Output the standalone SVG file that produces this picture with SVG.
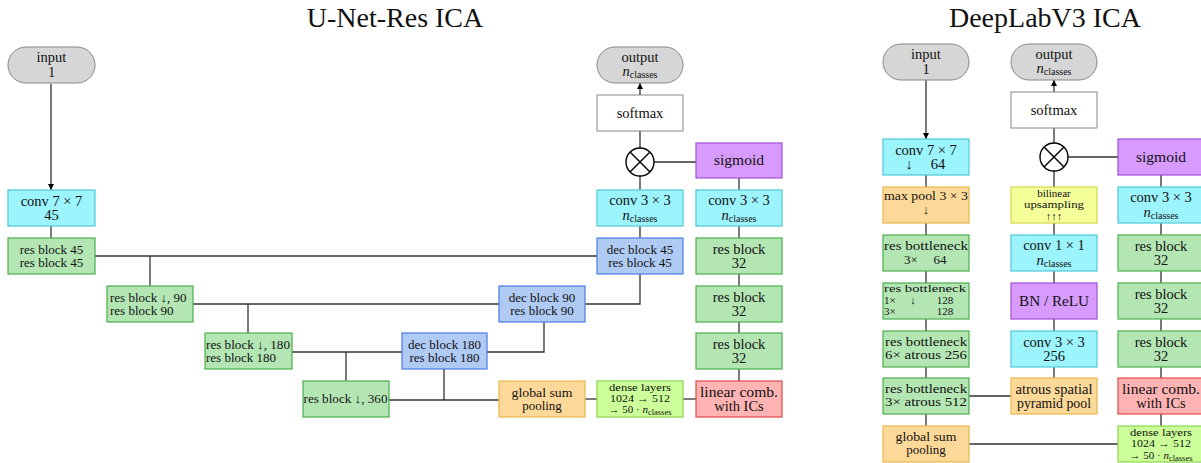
<svg xmlns="http://www.w3.org/2000/svg" width="1201" height="463" viewBox="0 0 1201 463">
<style>
text{font-family:"Liberation Serif","DejaVu Serif",serif;fill:#111;text-anchor:middle}
.t{font-size:14.5px}
.s{font-size:13px}
.xs{font-size:11px}
.l{text-anchor:start}
.ti{font-size:28px}
.sub{font-size:10px}
.pill{fill:#d6d6d6;stroke:#888;stroke-width:1}
.cy{fill:#9cf4fc;stroke:#52c6d6;stroke-width:1.2}
.gr{fill:#b4e6b4;stroke:#4cae4c;stroke-width:1.2}
.bl{fill:#afcbf4;stroke:#4a7ae6;stroke-width:1.2}
.or{fill:#fdd999;stroke:#e8b84c;stroke-width:1.2}
.pu{fill:#d69bfc;stroke:#a14fd6;stroke-width:1.2}
.re{fill:#ffb3b3;stroke:#e04848;stroke-width:1.2}
.lg{fill:#ccff99;stroke:#8cd64c;stroke-width:1.2}
.ye{fill:#f4ff99;stroke:#d6d64c;stroke-width:1.2}
.wh{fill:#fff;stroke:#888;stroke-width:1}
.c line,.c polyline{stroke:#333;stroke-width:1.3;fill:none}
.mul{fill:#fff;stroke:#000;stroke-width:1.4}
.x{stroke:#000;stroke-width:1.4}
</style>
<defs>
<marker id="ah" viewBox="0 0 10 10" refX="10" refY="5" markerWidth="6" markerHeight="6" orient="auto" markerUnits="userSpaceOnUse"><path d="M0,0 L10,5 L0,10 z" fill="#000"/></marker>
</defs>

<text class="ti" x="395" y="27">U-Net-Res ICA</text>
<text class="ti" x="1045" y="27">DeepLabV3 ICA</text>

<g class="c" id="connectors">
<line x1="51" y1="84" x2="51" y2="190" marker-end="url(#ah)"/>
<line x1="51" y1="226" x2="51" y2="238"/>
<line x1="95" y1="256" x2="597" y2="256"/>
<line x1="150" y1="256" x2="150" y2="286"/>
<line x1="193" y1="304" x2="499" y2="304"/>
<line x1="248" y1="304" x2="248" y2="333"/>
<line x1="291" y1="352" x2="402" y2="352"/>
<line x1="346" y1="352" x2="346" y2="381"/>
<line x1="389" y1="400" x2="499" y2="400"/>
<line x1="444" y1="369" x2="444" y2="400"/>
<polyline points="487,352 544,352 544,322"/>
<polyline points="585,304 640,304 640,274"/>
<line x1="640" y1="238" x2="640" y2="226"/>
<line x1="640" y1="190" x2="640" y2="176"/>
<line x1="640" y1="148" x2="640" y2="131"/>
<line x1="640" y1="95" x2="640" y2="83" marker-end="url(#ah)"/>
<line x1="654" y1="162" x2="696" y2="162"/>
<line x1="739" y1="178" x2="739" y2="381"/>
<line x1="585" y1="399" x2="597" y2="399"/>
<line x1="683" y1="399" x2="696" y2="399"/>

<line x1="926" y1="80" x2="926" y2="139" marker-end="url(#ah)"/>
<line x1="926" y1="175" x2="926" y2="426"/>
<line x1="969" y1="396" x2="1011" y2="396"/>
<line x1="969" y1="444" x2="1118" y2="444"/>
<line x1="1054" y1="171" x2="1054" y2="378"/>
<line x1="1054" y1="143" x2="1054" y2="128"/>
<line x1="1054" y1="92" x2="1054" y2="80" marker-end="url(#ah)"/>
<line x1="1068" y1="157" x2="1118" y2="157"/>
<line x1="1161" y1="175" x2="1161" y2="426"/>
</g>

<!-- U-Net-Res -->
<g id="u_input"><rect class="pill" x="8" y="47" width="87" height="36" rx="18"/><text class="t" x="51.5" y="62">input</text><text class="t" x="51.5" y="77">1</text></g>
<g id="u_conv7"><rect class="cy" x="8" y="190" width="87" height="36"/><text class="t" x="51.5" y="205.5">conv 7 × 7</text><text class="t" x="51.5" y="220">45</text></g>
<g id="u_res45"><rect class="gr" x="8" y="238" width="87" height="36"/><text class="s" x="51.5" y="254">res block 45</text><text class="s" x="51.5" y="267">res block 45</text></g>
<g id="u_res90"><rect class="gr" x="107" y="286" width="86" height="36"/><text class="s l" x="110" y="302">res block ↓, 90</text><text class="s l" x="110" y="315">res block 90</text></g>
<g id="u_res180"><rect class="gr" x="205" y="333" width="87" height="36"/><text class="s l" x="206" y="349" textLength="84" lengthAdjust="spacingAndGlyphs">res block ↓, 180</text><text class="s l" x="206" y="362">res block 180</text></g>
<g id="u_res360"><rect class="gr" x="303" y="381" width="86" height="36"/><text class="s l" x="303.5" y="403" textLength="84" lengthAdjust="spacingAndGlyphs">res block ↓, 360</text></g>
<g id="u_dec180"><rect class="bl" x="402" y="333" width="85" height="36"/><text class="s" x="444.5" y="349">dec block 180</text><text class="s" x="444.5" y="362">res block 180</text></g>
<g id="u_dec90"><rect class="bl" x="499" y="286" width="86" height="36"/><text class="s" x="542" y="302">dec block 90</text><text class="s" x="542" y="315">res block 90</text></g>
<g id="u_gsp"><rect class="or" x="499" y="381" width="86" height="36"/><text class="s" x="542" y="397" textLength="61" lengthAdjust="spacingAndGlyphs">global sum</text><text class="s" x="542" y="410">pooling</text></g>
<g id="u_dense"><rect class="lg" x="597" y="381" width="86" height="36"/><text class="xs" x="640" y="391" textLength="62" lengthAdjust="spacingAndGlyphs">dense layers</text><text class="xs" x="640" y="402" textLength="60" lengthAdjust="spacingAndGlyphs">1024 → 512</text><text class="xs" x="640" y="413">→ 50 · <tspan font-style="italic">n</tspan><tspan font-size="8.5" dy="2">classes</tspan></text></g>
<g id="u_dec45"><rect class="bl" x="597" y="238" width="86" height="36"/><text class="s" x="640" y="254">dec block 45</text><text class="s" x="640" y="267">res block 45</text></g>
<g id="u_conv3l"><rect class="cy" x="597" y="190" width="86" height="36"/><text class="t" x="640" y="205">conv 3 × 3</text><text class="t" x="640" y="219.5"><tspan font-style="italic">n</tspan><tspan class="sub" dy="2">classes</tspan></text></g>
<g id="u_mul"><circle class="mul" cx="640" cy="162" r="14"/><line class="x" x1="630" y1="152" x2="650" y2="172"/><line class="x" x1="650" y1="152" x2="630" y2="172"/></g>
<g id="u_softmax"><rect class="wh" x="597" y="95" width="86" height="36"/><text class="t" x="640" y="118">softmax</text></g>
<g id="u_output"><rect class="pill" x="597" y="47" width="86" height="36" rx="18"/><text class="t" x="640" y="61.5">output</text><text class="t" x="640" y="76"><tspan font-style="italic">n</tspan><tspan class="sub" dy="2">classes</tspan></text></g>
<g id="u_sigmoid"><rect class="pu" x="696" y="143" width="86" height="35"/><text class="t" x="739" y="165" textLength="50" lengthAdjust="spacingAndGlyphs">sigmoid</text></g>
<g id="u_conv3r"><rect class="cy" x="696" y="190" width="86" height="36"/><text class="t" x="739" y="205">conv 3 × 3</text><text class="t" x="739" y="219.5"><tspan font-style="italic">n</tspan><tspan class="sub" dy="2">classes</tspan></text></g>
<g id="u_r32a"><rect class="gr" x="696" y="238" width="86" height="36"/><text class="t" x="739" y="253.5">res block</text><text class="t" x="739" y="268">32</text></g>
<g id="u_r32b"><rect class="gr" x="696" y="286" width="86" height="36"/><text class="t" x="739" y="301.5">res block</text><text class="t" x="739" y="316">32</text></g>
<g id="u_r32c"><rect class="gr" x="696" y="333" width="86" height="36"/><text class="t" x="739" y="348.5">res block</text><text class="t" x="739" y="363">32</text></g>
<g id="u_lin"><rect class="re" x="696" y="381" width="86" height="36"/><text class="t" x="739" y="396.5" textLength="78" lengthAdjust="spacingAndGlyphs">linear comb.</text><text class="t" x="739" y="411">with ICs</text></g>

<!-- DeepLabV3 -->
<g id="d_input"><rect class="pill" x="883" y="44" width="86" height="36" rx="18"/><text class="t" x="926" y="59">input</text><text class="t" x="926" y="74">1</text></g>
<g id="d_conv7"><rect class="cy" x="883" y="139" width="86" height="36"/><text class="t" x="926" y="154.5">conv 7 × 7</text><text class="t" x="909" y="169">↓</text><text class="t" x="938" y="169">64</text></g>
<g id="d_maxpool"><rect class="or" x="883" y="187" width="86" height="36"/><text class="s" x="926" y="200" textLength="84" lengthAdjust="spacingAndGlyphs">max pool 3 × 3</text><text class="s" x="926" y="214">↓</text></g>
<g id="d_rb64"><rect class="gr" x="883" y="235" width="86" height="36"/><text class="s" x="926" y="250" textLength="84" lengthAdjust="spacingAndGlyphs">res bottleneck</text><text class="s" x="911" y="264">3×</text><text class="s" x="940" y="264">64</text></g>
<g id="d_rb128"><rect class="gr" x="883" y="283" width="86" height="36"/><text class="xs l" x="884" y="292" textLength="82" lengthAdjust="spacingAndGlyphs">res bottleneck</text><text class="xs l" x="884" y="303.5">1×</text><text class="xs" x="913" y="303.5">↓</text><text class="xs l" x="884" y="315">3×</text><text class="xs" x="945" y="303.5">128</text><text class="xs" x="945" y="315">128</text></g>
<g id="d_rb256"><rect class="gr" x="883" y="331" width="86" height="36"/><text class="s" x="926" y="346" textLength="82" lengthAdjust="spacingAndGlyphs">res bottleneck</text><text class="s" x="926" y="359" textLength="82" lengthAdjust="spacingAndGlyphs">6× atrous 256</text></g>
<g id="d_rb512"><rect class="gr" x="883" y="378" width="86" height="36"/><text class="s" x="926" y="393" textLength="82" lengthAdjust="spacingAndGlyphs">res bottleneck</text><text class="s" x="926" y="406" textLength="82" lengthAdjust="spacingAndGlyphs">3× atrous 512</text></g>
<g id="d_gsp"><rect class="or" x="883" y="426" width="86" height="36"/><text class="s" x="926" y="441" textLength="61" lengthAdjust="spacingAndGlyphs">global sum</text><text class="s" x="926" y="454">pooling</text></g>
<g id="d_output"><rect class="pill" x="1011" y="44" width="86" height="36" rx="18"/><text class="t" x="1054" y="58.5">output</text><text class="t" x="1054" y="73"><tspan font-style="italic">n</tspan><tspan class="sub" dy="2">classes</tspan></text></g>
<g id="d_softmax"><rect class="wh" x="1011" y="92" width="86" height="36"/><text class="t" x="1054" y="115">softmax</text></g>
<g id="d_mul"><circle class="mul" cx="1054" cy="157" r="14"/><line class="x" x1="1044" y1="147" x2="1064" y2="167"/><line class="x" x1="1064" y1="147" x2="1044" y2="167"/></g>
<g id="d_bilinear"><rect class="ye" x="1011" y="187" width="86" height="36"/><text class="xs" x="1054" y="197">bilinear</text><text class="xs" x="1054" y="208" textLength="60" lengthAdjust="spacingAndGlyphs">upsampling</text><text class="xs" x="1054" y="220">↑↑↑</text></g>
<g id="d_conv1"><rect class="cy" x="1011" y="235" width="86" height="36"/><text class="t" x="1054" y="250">conv 1 × 1</text><text class="t" x="1054" y="264.5"><tspan font-style="italic">n</tspan><tspan class="sub" dy="2">classes</tspan></text></g>
<g id="d_bn"><rect class="pu" x="1011" y="283" width="86" height="36"/><text class="t" x="1054" y="306" textLength="70" lengthAdjust="spacingAndGlyphs">BN / ReLU</text></g>
<g id="d_conv3"><rect class="cy" x="1011" y="331" width="86" height="36"/><text class="t" x="1054" y="346.5">conv 3 × 3</text><text class="t" x="1054" y="361">256</text></g>
<g id="d_aspp"><rect class="or" x="1011" y="378" width="86" height="36"/><text class="t" x="1054" y="393.5" textLength="77" lengthAdjust="spacingAndGlyphs">atrous spatial</text><text class="t" x="1054" y="408" textLength="74" lengthAdjust="spacingAndGlyphs">pyramid pool</text></g>
<g id="d_sigmoid"><rect class="pu" x="1118" y="139" width="86" height="36"/><text class="t" x="1161" y="162" textLength="50" lengthAdjust="spacingAndGlyphs">sigmoid</text></g>
<g id="d_conv3r"><rect class="cy" x="1118" y="187" width="86" height="36"/><text class="t" x="1161" y="202">conv 3 × 3</text><text class="t" x="1161" y="216.5"><tspan font-style="italic">n</tspan><tspan class="sub" dy="2">classes</tspan></text></g>
<g id="d_r32a"><rect class="gr" x="1118" y="235" width="86" height="36"/><text class="t" x="1161" y="250.5">res block</text><text class="t" x="1161" y="265">32</text></g>
<g id="d_r32b"><rect class="gr" x="1118" y="283" width="86" height="36"/><text class="t" x="1161" y="298.5">res block</text><text class="t" x="1161" y="313">32</text></g>
<g id="d_r32c"><rect class="gr" x="1118" y="331" width="86" height="36"/><text class="t" x="1161" y="346.5">res block</text><text class="t" x="1161" y="361">32</text></g>
<g id="d_lin"><rect class="re" x="1118" y="378" width="86" height="36"/><text class="t" x="1161" y="393.5" textLength="78" lengthAdjust="spacingAndGlyphs">linear comb.</text><text class="t" x="1161" y="408">with ICs</text></g>
<g id="d_dense"><rect class="lg" x="1118" y="426" width="86" height="36"/><text class="xs" x="1161" y="436" textLength="62" lengthAdjust="spacingAndGlyphs">dense layers</text><text class="xs" x="1161" y="447" textLength="60" lengthAdjust="spacingAndGlyphs">1024 → 512</text><text class="xs" x="1161" y="458.5">→ 50 · <tspan font-style="italic">n</tspan><tspan font-size="8.5" dy="2">classes</tspan></text></g>
</svg>
